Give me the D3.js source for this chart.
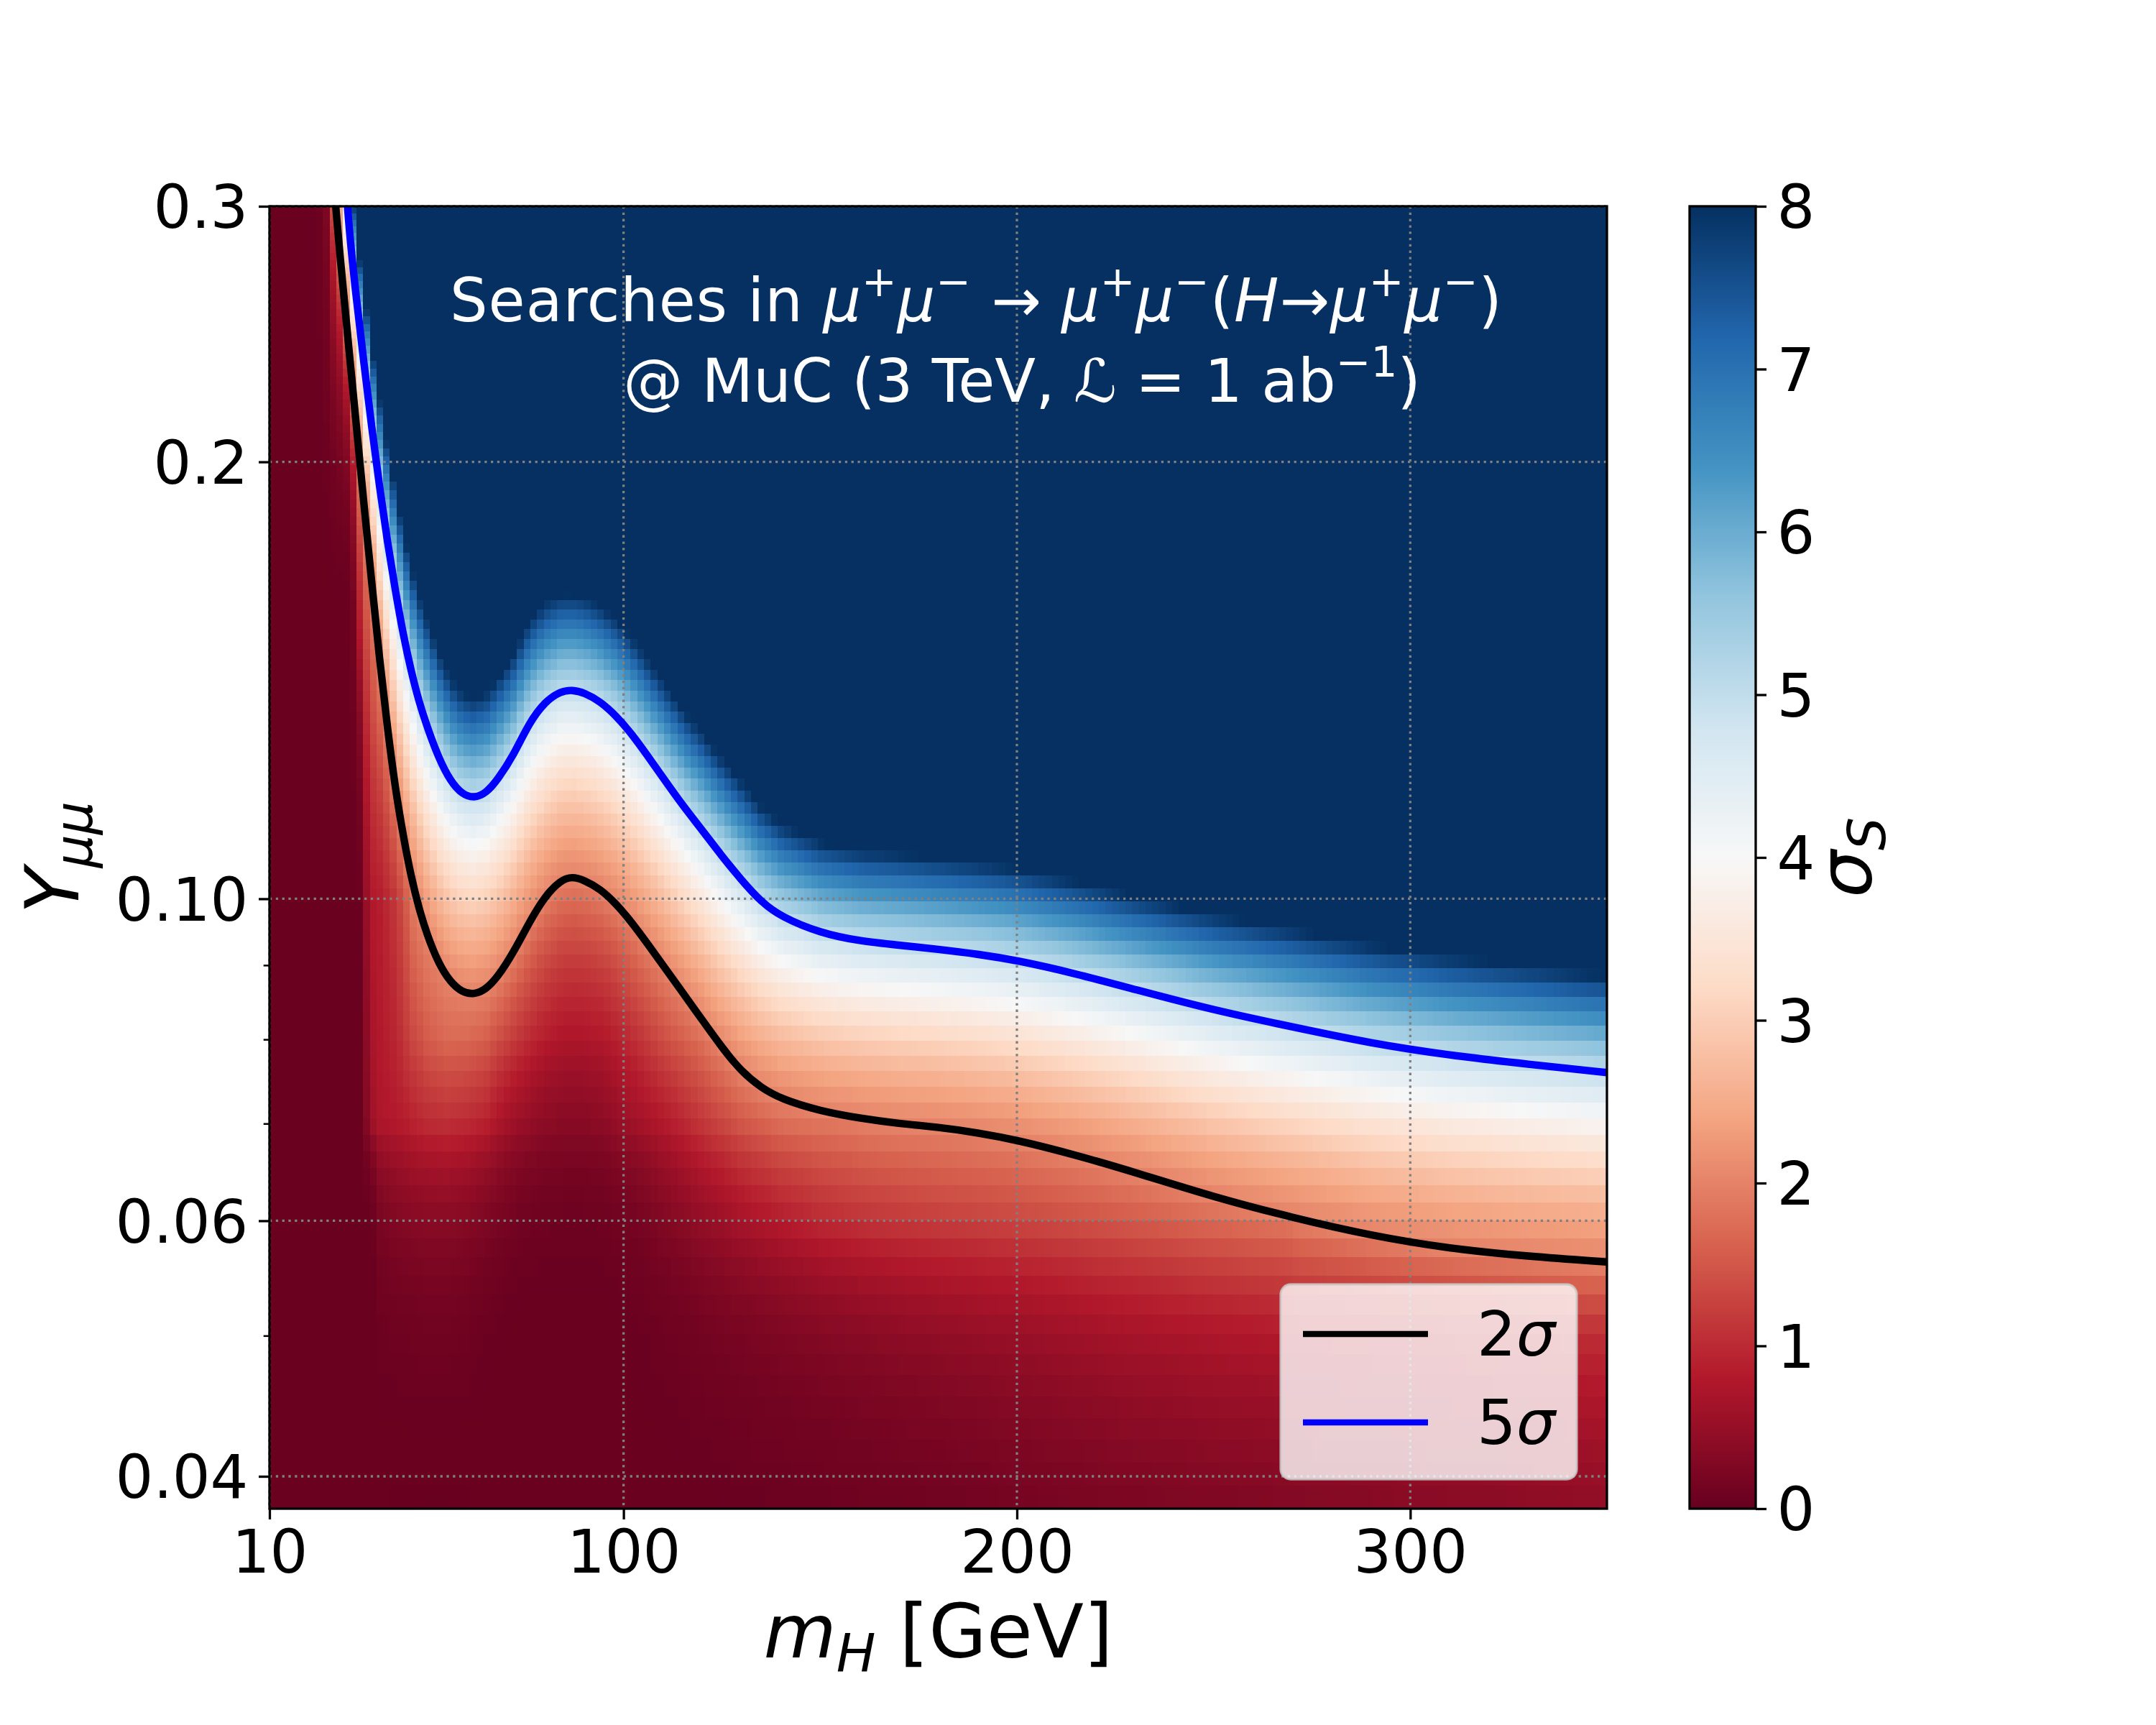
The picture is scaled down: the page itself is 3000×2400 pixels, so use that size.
<!DOCTYPE html>
<html>
<head>
<meta charset="utf-8">
<script src="https://cdn.jsdelivr.net/npm/d3@7"></script>
<style>
body { margin: 0; background: #fff; }
text { font-family: "DejaVu Sans", sans-serif; white-space: pre; }
</style>
</head>
<body>
<svg id="chart" width="3000" height="2400"></svg>
<script>
// contour lines (m_H in GeV, Y_mumu); values below 10 GeV..26 GeV are off the top edge
var contourMass = [10,20,22,23,24,25,26,27,28,29,30,32,34,36,38,40,42,44,46,48,50,53,56,59,62,65,68,72,76,80,84,87,90,94,98,102,106,110,115,120,125,130,135,140,150,160,170,180,190,200,215,230,250,270,290,310,330,350];
var sigma2Line = [1000,30,4,1.5,0.7,0.4,0.32,0.296,0.276,0.259,0.242,0.213,0.187,0.165,0.146,0.131,0.119,0.1105,0.1035,0.0985,0.0945,0.0902,0.0876,0.0862,0.0859,0.0866,0.0883,0.0918,0.0963,0.1004,0.1030,0.1036,0.1030,0.1016,0.0993,0.0964,0.0932,0.0900,0.0862,0.0825,0.0790,0.0760,0.0741,0.0728,0.0714,0.0706,0.0700,0.0696,0.0690,0.0682,0.0666,0.0648,0.0623,0.0603,0.0586,0.0574,0.0567,0.0562];
var sigma5Line = [2000,60,8,3,1.4,0.8,0.55,0.43,0.37,0.325,0.293,0.260,0.234,0.211,0.192,0.176,0.163,0.152,0.1435,0.1367,0.1315,0.1250,0.1205,0.1180,0.1173,0.1182,0.1208,0.1255,0.1322,0.1367,0.1390,0.1393,0.1387,0.1368,0.1338,0.1300,0.1256,0.1212,0.1160,0.1115,0.1070,0.1030,0.0995,0.0972,0.0947,0.0935,0.0929,0.0923,0.0916,0.0907,0.0888,0.0866,0.0838,0.0816,0.0795,0.0780,0.0769,0.0759];

// significance (null: above the 2 sigma line)
var lowMass = [10,30,33,34,35,36,38,42,46,50,55,60,65,70,75,80,85,90,95,100,110,120,130,140,150,160,175,200,225,250,275,300,325,350];
var sigAt040 = [.02,.02,.02,.02,.02,.02,.02,.02,.02,.02,.02,.02,.02,.02,.02,.02,.02,.02,.02,.02,.025,.035,.05,.065,.08,.1,.13,.19,.26,.31,.36,.41,.46,.52];
var sigAt050 = [.02,.02,.02,.02,.02,.02,.06,.08,.09,.1,.1,.08,.05,.03,.02,.02,.02,.02,.02,.03,.07,.13,.19,.25,.31,.36,.43,.53,.65,.75,.83,.9,.98,1.05];
var sigAt060 = [.02,.02,.02,.02,.03,.05,.2,.28,.33,.36,.37,.33,.25,.16,.1,.08,.07,.07,.08,.12,.28,.48,.68,.85,1.0,1.1,1.2,1.32,1.5,1.72,1.95,null,null,null];
var sigAt070 = [.02,.02,.02,.15,.45,.6,.75,.8,.9,1.0,1.05,1.0,.9,.65,.5,.4,.35,.35,.4,.55,.8,1.15,1.5,1.75,1.85,1.92,null,null,null,null,null,null,null,null];
var sigAt080 = [.02,.02,.03,.2,.55,.7,.8,.95,1.3,1.55,1.7,1.7,1.6,1.3,1.05,.85,.75,.75,.8,.95,1.4,1.8,null,null,null,null,null,null,null,null,null,null,null,null];
var sigAt100 = [.02,.02,.05,.3,.7,.8,.85,1.15,1.8,null,null,null,null,null,null,null,null,null,null,null,null,null,null,null,null,null,null,null,null,null,null,null,null,null];
var sigAt150 = [.02,.02,.8,1.1,1.5,1.8,null,null,null,null,null,null,null,null,null,null,null,null,null,null,null,null,null,null,null,null,null,null,null,null,null,null,null,null];
var lowLevels = [0.04,0.05,0.06,0.07,0.08,0.10,0.15];
var lowSig = [sigAt040,sigAt050,sigAt060,sigAt070,sigAt080,sigAt100,sigAt150];

var xTicks = [10,100,200,300];
var yTicks = [0.04,0.06,0.1,0.2,0.3];
var yTickLabels = ["0.04","0.06","0.10","0.2","0.3"];
var yMinor = [0.05,0.07,0.08,0.09];
var cTicks = [0,1,2,3,4,5,6,7,8];
var rdbu = ["#67001f","#b2182b","#d6604d","#f4a582","#fddbc7","#f7f7f7","#d1e5f0","#92c5de","#4393c3","#2166ac","#053061"];

var svg = d3.select("#chart");
var L = 375, R = 2236, T = 287, B = 2099;
var fs = 83, fsLab = 104;

var x = d3.scaleLinear().domain([10,350]).range([L,R]);
var y = d3.scaleLog().domain([0.038,0.3]).range([B,T]);
var color = d3.scaleLinear().domain(d3.range(11).map(function(i){ return i*0.8; }))
  .range(rdbu).interpolate(d3.interpolateRgb).clamp(true);

var logY2 = d3.scaleLinear().domain(contourMass).range(sigma2Line.map(Math.log));
var logY5 = d3.scaleLinear().domain(contourMass).range(sigma5Line.map(Math.log));

function lowValue(arr, m) {
  var j = d3.bisectRight(lowMass, m) - 1;
  j = Math.max(0, Math.min(lowMass.length - 2, j));
  var a = arr[j], b = arr[j+1];
  if (a == null || b == null) return null;
  var f = (m - lowMass[j]) / (lowMass[j+1] - lowMass[j]);
  return Math.exp(Math.log(a) + f*(Math.log(b) - Math.log(a)));
}

function sigmaAt(m, Y) {
  var y2 = Math.exp(logY2(m)), y5 = Math.exp(logY5(m));
  var pts = [];
  lowLevels.forEach(function(lv, i) {
    var v = lowValue(lowSig[i], m);
    if (v != null && lv < y2*0.995 && v < 2) pts.push([Math.log(lv), Math.log(v)]);
  });
  pts.push([Math.log(y2), Math.log(2)]);
  pts.push([Math.log(y5), Math.log(5)]);
  for (var k = 1; k < pts.length; k++) if (pts[k][1] < pts[k-1][1]) pts[k][1] = pts[k-1][1];
  var ly = Math.log(Y), i = 0;
  while (i < pts.length - 2 && ly > pts[i+1][0]) i++;
  var p0 = pts[i], p1 = pts[i+1];
  var s = Math.exp(p0[1] + (ly - p0[0]) * (p1[1] - p0[1]) / (p1[0] - p0[0]));
  return Math.max(0, Math.min(8, s));
}

// heatmap cells
var nCol = 200, nRow = 112, pw = 0.63;
var u0 = Math.pow(0.038, pw), u1 = Math.pow(0.3, pw);
var cells = [];
for (var c = 0; c < nCol; c++) {
  var m0 = 10 + 340*c/nCol, m1 = 10 + 340*(c+1)/nCol;
  for (var r = 0; r < nRow; r++) {
    var ya = Math.pow(u0 + (u1-u0)*r/nRow, 1/pw), yb = Math.pow(u0 + (u1-u0)*(r+1)/nRow, 1/pw);
    cells.push({m0: m0, m1: m1, y0: ya, y1: yb, s: sigmaAt((m0+m1)/2, Math.sqrt(ya*yb))});
  }
}

svg.append("defs").append("clipPath").attr("id", "plotclip")
  .append("rect").attr("x", L).attr("y", T).attr("width", R-L).attr("height", B-T);

svg.append("g").attr("clip-path", "url(#plotclip)")
  .selectAll("rect").data(cells).enter().append("rect")
  .attr("x", function(d){ return x(d.m0); })
  .attr("y", function(d){ return y(d.y1); })
  .attr("width", function(d){ return x(d.m1) - x(d.m0) + 0.6; })
  .attr("height", function(d){ return y(d.y0) - y(d.y1) + 0.6; })
  .attr("fill", function(d){ return color(d.s); })
  .attr("shape-rendering", "crispEdges");

// grid
var grid = svg.append("g").attr("stroke", "#808080").attr("stroke-width", 3.3).attr("stroke-dasharray", "3.3,5.5");
xTicks.forEach(function(v){ grid.append("line").attr("x1", x(v)).attr("x2", x(v)).attr("y1", T).attr("y2", B); });
yTicks.forEach(function(v){ grid.append("line").attr("x1", L).attr("x2", R).attr("y1", y(v)).attr("y2", y(v)); });

// contours
var line2 = d3.line().x(function(d){ return x(d[0]); }).y(function(d){ return y(d[1]); }).curve(d3.curveBasis);
var lines = svg.append("g").attr("clip-path", "url(#plotclip)").attr("fill", "none").attr("stroke-width", 10.4).attr("stroke-linejoin", "round");
lines.append("path").attr("d", line2(contourMass.map(function(m, i){ return [m, sigma2Line[i]]; }))).attr("stroke", "#000");
lines.append("path").attr("d", line2(contourMass.map(function(m, i){ return [m, sigma5Line[i]]; }))).attr("stroke", "#0000ff");

// rich text helper (mathtext-like)
function richText(g, px, py, anchor, size, parts, fill) {
  var t = g.append("text").attr("x", px).attr("y", py).attr("text-anchor", anchor)
    .attr("font-size", size).attr("fill", fill || "#000");
  var shift = 0;
  parts.forEach(function(p) {
    var s = p.sup ? -0.42*size : (p.sub ? 0.18*size : 0);
    var ts = t.append("tspan").text(p.t).attr("dy", s - shift);
    if (p.sup || p.sub) ts.attr("font-size", size*0.7);
    if (p.it) ts.attr("font-style", "italic");
    shift = s;
  });
  return t;
}

// title
var mu = function(sign){ return [{t:"μ", it:1}, {t:sign, sup:1}]; };
richText(svg, 1358, 447, "middle", fs, [].concat(
  [{t:"Searches in "}], mu("+"), mu("−"), [{t:" → "}], mu("+"), mu("−"),
  [{t:"("}, {t:"H", it:1}, {t:"→"}], mu("+"), mu("−"), [{t:")"}]), "#fff")
  .attr("textLength", 1464).attr("lengthAdjust", "spacing");
richText(svg, 1422, 559, "middle", fs, [{t:"@ MuC (3 TeV, "}, {t:"ℒ", it:1}, {t:" = 1 ab"}, {t:"−1", sup:1}, {t:")"}], "#fff");

// axes
var xAxis = svg.append("g").attr("transform", "translate(0," + B + ")")
  .call(d3.axisBottom(x).tickValues(xTicks).tickFormat(d3.format("d")).tickSize(15).tickPadding(14.6));
var yAxis = svg.append("g").attr("transform", "translate(" + L + ",0)")
  .call(d3.axisLeft(y).tickValues(yTicks).tickFormat(function(d, i){ return yTickLabels[i]; }).tickSize(15).tickPadding(14.6));
svg.append("g").attr("transform", "translate(" + L + ",0)")
  .call(d3.axisLeft(y).tickValues(yMinor).tickFormat("").tickSize(8.3))
  .call(function(g){ g.select(".domain").remove(); g.selectAll("line").attr("stroke-width", 2.5); });
[xAxis, yAxis].forEach(function(g){
  g.select(".domain").remove();
  g.selectAll("line").attr("stroke-width", 3.3);
  g.selectAll("text").attr("font-size", fs).attr("font-family", "DejaVu Sans").attr("fill", "#000");
});
yAxis.selectAll("text").attr("dy", "0.36em");

svg.append("rect").attr("x", L).attr("y", T).attr("width", R-L).attr("height", B-T)
  .attr("fill", "none").attr("stroke", "#000").attr("stroke-width", 3.3);

// axis labels
richText(svg, (L+R)/2, 2306, "middle", fsLab, [{t:"m", it:1}, {t:"H", it:1, sub:1}, {t:" [GeV]"}]);
var yl = svg.append("g").attr("transform", "translate(109," + ((T+B)/2) + ") rotate(-90)");
richText(yl, 0, 0, "middle", fsLab, [{t:"Y", it:1}, {t:"μμ", it:1, sub:1}]);

// legend
var lg = svg.append("g");
lg.append("rect").attr("x", 1782).attr("y", 1787).attr("width", 412).attr("height", 271).attr("rx", 14)
  .attr("fill", "#fff").attr("fill-opacity", 0.8).attr("stroke", "#cccccc").attr("stroke-opacity", 0.8).attr("stroke-width", 3.3);
[["2", "#000", 1856, 1886], ["5", "#0000ff", 1979, 2009]].forEach(function(e){
  lg.append("line").attr("x1", 1813).attr("x2", 1987).attr("y1", e[2]).attr("y2", e[2]).attr("stroke", e[1]).attr("stroke-width", 8.7);
  richText(lg, 2055, e[3], "start", 86, [{t:e[0]}, {t:"σ", it:1}]);
});

// colorbar
var CL = 2351, CR = 2443;
var cy = d3.scaleLinear().domain([0,8]).range([B,T]);
var grad = svg.select("defs").append("linearGradient").attr("id", "cbar")
  .attr("x1", 0).attr("x2", 0).attr("y1", 1).attr("y2", 0);
d3.range(0, 81).forEach(function(k){
  grad.append("stop").attr("offset", k/80).attr("stop-color", color(k/10));
});
svg.append("rect").attr("x", CL).attr("y", T).attr("width", CR-CL).attr("height", B-T).attr("fill", "url(#cbar)");
svg.append("rect").attr("x", CL).attr("y", T).attr("width", CR-CL).attr("height", B-T)
  .attr("fill", "none").attr("stroke", "#000").attr("stroke-width", 3.3);
var cAxis = svg.append("g").attr("transform", "translate(" + CR + ",0)")
  .call(d3.axisRight(cy).tickValues(cTicks).tickFormat(d3.format("d")).tickSize(15).tickPadding(14.6));
cAxis.select(".domain").remove();
cAxis.selectAll("line").attr("stroke-width", 3.3);
cAxis.selectAll("text").attr("font-size", fs).attr("font-family", "DejaVu Sans").attr("dy", "0.36em");
var cl = svg.append("g").attr("transform", "translate(2604," + ((T+B)/2) + ") rotate(-90)");
richText(cl, 0, 0, "middle", fsLab, [{t:"σ", it:1}, {t:"S", it:1, sub:1}]);
</script>
</body>
</html>
